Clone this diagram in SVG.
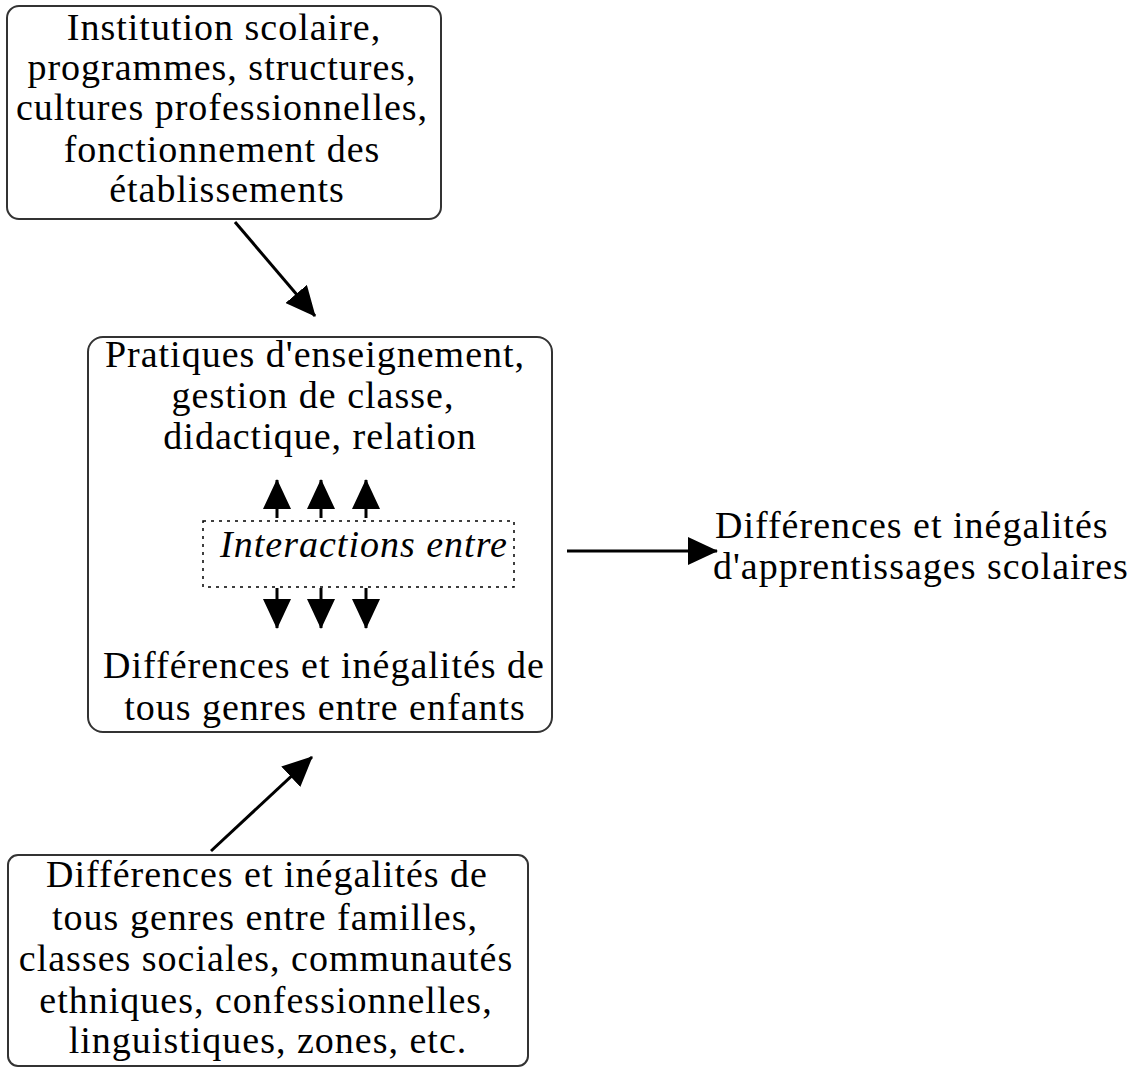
<svg xmlns="http://www.w3.org/2000/svg" width="1138" height="1068" viewBox="0 0 1138 1068">
<style>
.box{fill:#fff;stroke:#333;stroke-width:2}
.t{font-family:"Liberation Serif","Times New Roman",serif;font-size:38px;letter-spacing:1px;fill:#000;text-anchor:middle}
.it{font-style:italic}
.ln{stroke:#000;stroke-width:3;fill:none}
.dot{fill:none;stroke:#000;stroke-width:1.5;stroke-dasharray:3 5}
</style>
<defs>
<marker id="ah" markerUnits="userSpaceOnUse" markerWidth="30" markerHeight="28" refX="29" refY="14" orient="auto" viewBox="0 0 30 28">
<path d="M0,0 L30,14 L0,28 z" fill="#000"/>
</marker>
</defs>
<rect width="1138" height="1068" fill="#fff"/>
<g id="institution">
<rect class="box" x="7" y="6" width="434" height="213" rx="12"/>
<text class="t" x="224" y="40">Institution scolaire,</text>
<text class="t" x="222" y="80">programmes, structures,</text>
<text class="t" x="222" y="120">cultures professionnelles,</text>
<text class="t" x="222" y="162">fonctionnement des</text>
<text class="t" x="227" y="202">établissements</text>
</g>
<g id="pratiques">
<rect class="box" x="88" y="337" width="464" height="395" rx="15"/>
<text class="t" x="315" y="367">Pratiques d'enseignement,</text>
<text class="t" x="313" y="408">gestion de classe,</text>
<text class="t" x="320" y="449">didactique, relation</text>
<text class="t" x="324" y="678">Différences et inégalités de</text>
<text class="t" x="325" y="720">tous genres entre enfants</text>
</g>
<g id="interactions">
<rect class="dot" x="203" y="521" width="311" height="66"/>
<text class="t it" x="364" y="557">Interactions entre</text>
</g>
<g id="familles">
<rect class="box" x="8" y="855" width="520" height="211" rx="10"/>
<text class="t" x="267" y="887">Différences et inégalités de</text>
<text class="t" x="265" y="930">tous genres entre familles,</text>
<text class="t" x="266" y="971">classes sociales, communautés</text>
<text class="t" x="266" y="1013">ethniques, confessionnelles,</text>
<text class="t" x="268" y="1053">linguistiques, zones, etc.</text>
</g>
<g id="resultat">
<text class="t" x="715" y="538" style="text-anchor:start">Différences et inégalités</text>
<text class="t" x="713" y="579" style="text-anchor:start">d'apprentissages scolaires</text>
</g>
<g id="connectors">
<line class="ln" x1="235" y1="222" x2="315" y2="316" marker-end="url(#ah)"/>
<line class="ln" x1="211" y1="851" x2="312" y2="757" marker-end="url(#ah)"/>
<line class="ln" x1="567" y1="551" x2="717" y2="551" marker-end="url(#ah)"/>
<line class="ln" x1="277" y1="518" x2="277" y2="480" marker-end="url(#ah)"/>
<line class="ln" x1="321" y1="518" x2="321" y2="480" marker-end="url(#ah)"/>
<line class="ln" x1="366" y1="518" x2="366" y2="480" marker-end="url(#ah)"/>
<line class="ln" x1="277" y1="588" x2="277" y2="628" marker-end="url(#ah)"/>
<line class="ln" x1="321" y1="588" x2="321" y2="628" marker-end="url(#ah)"/>
<line class="ln" x1="366" y1="588" x2="366" y2="628" marker-end="url(#ah)"/>
</g>
</svg>
